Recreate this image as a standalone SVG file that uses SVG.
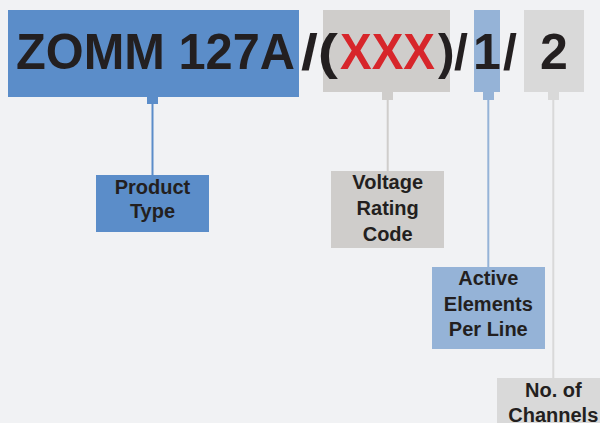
<svg xmlns="http://www.w3.org/2000/svg" width="600" height="423" viewBox="0 0 600 423">
<style>
text{font-family:"Liberation Sans",Arial,sans-serif;font-weight:bold;fill:#231f20}
.big{font-size:50px}
.lbl{font-size:20px;text-anchor:middle}
.red{fill:#d7262b}
</style>
<rect x="0" y="0" width="600" height="423" fill="#f1f2f4"/>
<g id="code">
<rect x="8" y="10" width="291" height="87" fill="#5b8dc9"/>
<rect x="323" y="10" width="127" height="82" fill="#cfcdcb"/>
<rect x="474" y="10" width="26" height="82" fill="#95b3d7"/>
<rect x="524" y="10" width="60" height="82" fill="#d9d9d9"/>
<text class="big" x="16" y="69" textLength="279" lengthAdjust="spacingAndGlyphs">ZOMM 127A</text>
<text class="big" x="301" y="69" textLength="37" lengthAdjust="spacingAndGlyphs">/(</text>
<text class="big red" x="340" y="69" textLength="95" lengthAdjust="spacingAndGlyphs">XXX</text>
<text class="big" x="438" y="69">)</text>
<text class="big" x="454" y="69">/</text>
<text class="big" x="473" y="69">1</text>
<text class="big" x="503" y="69">/</text>
<text class="big" x="540" y="69">2</text>
</g>
<g id="connectors" fill="none" stroke-width="2">
<rect x="147" y="97" width="11" height="7" fill="#5b8dc9" stroke="none"/>
<line x1="152.5" y1="103" x2="152.5" y2="175" stroke="#5b8dc9"/>
<rect x="382" y="92" width="11" height="8" fill="#cfcdcb" stroke="none"/>
<line x1="387.7" y1="99" x2="387.7" y2="171" stroke="#cfcdcb"/>
<rect x="483" y="92" width="11" height="8" fill="#95b3d7" stroke="none"/>
<line x1="488.3" y1="99" x2="488.3" y2="267" stroke="#95b3d7"/>
<rect x="548" y="92" width="11" height="8" fill="#d9d9d9" stroke="none"/>
<line x1="553.3" y1="99" x2="553.3" y2="378" stroke="#d9d9d9"/>
</g>
<g id="product-type">
<rect x="96" y="175" width="113" height="57" fill="#5b8dc9"/>
<text class="lbl" x="152.5" y="194">Product</text>
<text class="lbl" x="152.5" y="218">Type</text>
</g>
<g id="voltage-rating-code">
<rect x="331" y="171" width="113" height="77" fill="#cfcdcb"/>
<text class="lbl" x="387.7" y="189">Voltage</text>
<text class="lbl" x="387.7" y="215">Rating</text>
<text class="lbl" x="387.7" y="241">Code</text>
</g>
<g id="active-elements">
<rect x="432" y="267" width="113" height="82" fill="#95b3d7"/>
<text class="lbl" x="488.3" y="285">Active</text>
<text class="lbl" x="488.3" y="311">Elements</text>
<text class="lbl" x="488.3" y="336">Per Line</text>
</g>
<g id="channels">
<rect x="497" y="378" width="113" height="60" fill="#d9d9d9"/>
<text class="lbl" x="553.3" y="397">No. of</text>
<text class="lbl" x="553.3" y="422">Channels</text>
</g>
</svg>
